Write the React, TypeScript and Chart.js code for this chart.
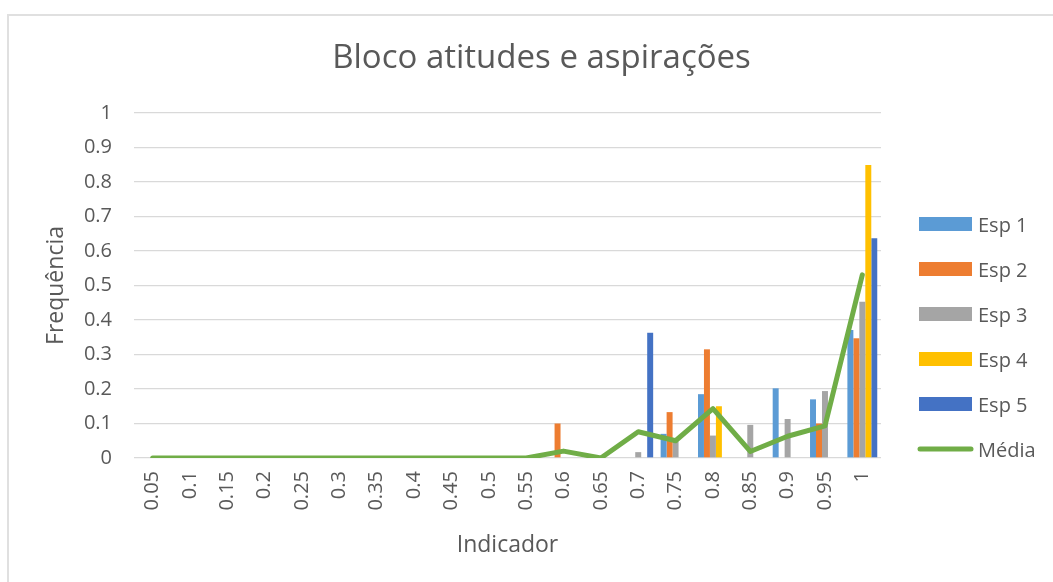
import React, { useEffect, useRef } from 'react';
import { Chart, registerables } from 'chart.js';

Chart.register(...registerables);

// ---------- data ----------
const categories = ['0.05', '0.1', '0.15', '0.2', '0.25', '0.3', '0.35', '0.4', '0.45', '0.5', '0.55', '0.6', '0.65', '0.7', '0.75', '0.8', '0.85', '0.9', '0.95', '1'];

const esp1 = [0, 0, 0, 0, 0, 0, 0, 0, 0, 0, 0, 0, 0, 0, 0.07, 0.185, 0, 0.202, 0.17, 0.371];
const esp2 = [0, 0, 0, 0, 0, 0, 0, 0, 0, 0, 0, 0.1, 0, 0, 0.133, 0.315, 0, 0, 0.1, 0.347];
const esp3 = [0, 0, 0, 0, 0, 0, 0, 0, 0, 0, 0, 0, 0, 0.017, 0.048, 0.065, 0.096, 0.113, 0.194, 0.453];
const esp4 = [0, 0, 0, 0, 0, 0, 0, 0, 0, 0, 0, 0, 0, 0, 0, 0.15, 0, 0, 0, 0.849];
const esp5 = [0, 0, 0, 0, 0, 0, 0, 0, 0, 0, 0, 0, 0, 0.363, 0, 0, 0, 0, 0, 0.637];
const media = [0, 0, 0, 0, 0, 0, 0, 0, 0, 0, 0, 0.02, 0, 0.076, 0.05, 0.143, 0.019, 0.063, 0.093, 0.531];

const seriesNames = ['Esp 1', 'Esp 2', 'Esp 3', 'Esp 4', 'Esp 5'];
const seriesValues = [esp1, esp2, esp3, esp4, esp5];
const seriesColors = ['#5B9BD5', '#ED7D31', '#A5A5A5', '#FFC000', '#4472C4'];
const mediaName = 'Média';
const mediaColor = '#70AD47';

const yTickLabels = ['0', '0.1', '0.2', '0.3', '0.4', '0.5', '0.6', '0.7', '0.8', '0.9', '1'];

const chartTitle = 'Bloco atitudes e aspirações';
const xAxisTitle = 'Indicador';
const yAxisTitle = 'Frequência';

const TEXT = '#595959';
const GRID = '#D9D9D9';
const FONT = "'Open Sans', 'DejaVu Sans', sans-serif";

// ---------- overlay plugin: title + legend ----------
const overlayPlugin = {
  id: 'overlayTitleLegend',
  afterDraw(chart: any) {
    const ctx = chart.ctx as CanvasRenderingContext2D;
    ctx.save();
    ctx.fillStyle = TEXT;
    ctx.font = `33px ${FONT}`;
    ctx.textAlign = 'center';
    ctx.textBaseline = 'alphabetic';
    ctx.fillText(chartTitle, 541.5, 68);

    const legendX = 919;
    const boxW = 53;
    const boxH = 14;
    const textX = 978;
    const firstY = 224;
    const stepY = 45;
    ctx.font = `20px ${FONT}`;
    ctx.textAlign = 'left';
    chart.data.datasets.forEach((ds: any, i: number) => {
      const cy = firstY + i * stepY;
      if (ds.type === 'line') {
        ctx.strokeStyle = ds.borderColor;
        ctx.lineWidth = 5;
        ctx.lineCap = 'round';
        ctx.beginPath();
        ctx.moveTo(legendX + 1, cy);
        ctx.lineTo(legendX + boxW - 1, cy);
        ctx.stroke();
      } else {
        ctx.fillStyle = ds.backgroundColor;
        ctx.fillRect(legendX, cy - boxH / 2, boxW, boxH);
      }
      ctx.fillStyle = TEXT;
      ctx.fillText(ds.label, textX, cy + 8);
    });
    ctx.restore();
  },
};

export default function App() {
  const canvasRef = useRef<HTMLCanvasElement | null>(null);

  useEffect(() => {
    if (!canvasRef.current) return;
    Chart.defaults.font.family = FONT;
    Chart.defaults.color = TEXT;

    const barDatasets = seriesNames.map((name, i) => ({
      type: 'bar' as const,
      label: name,
      data: seriesValues[i],
      backgroundColor: seriesColors[i],
      borderWidth: 0,
      categoryPercentage: 0.8,
      barPercentage: 1.0,
      order: 2,
    }));

    const chart = new Chart(canvasRef.current, {
      type: 'bar',
      data: {
        labels: categories,
        datasets: [
          ...barDatasets,
          {
            type: 'line' as const,
            label: mediaName,
            data: media,
            borderColor: mediaColor,
            backgroundColor: mediaColor,
            borderWidth: 5,
            pointRadius: 0,
            pointHoverRadius: 0,
            tension: 0,
            borderCapStyle: 'round',
            borderJoinStyle: 'round',
            fill: false,
            order: 0,
          } as any,
        ],
      },
      options: {
        animation: false,
        responsive: true,
        maintainAspectRatio: false,
        layout: { padding: { top: 113, right: 172, left: 0, bottom: 0 } },
        plugins: {
          legend: { display: false },
          title: { display: false },
          tooltip: { enabled: false },
        },
        scales: {
          x: {
            grid: { display: false, drawTicks: false },
            border: { display: false },
            ticks: {
              color: TEXT,
              font: { size: 20 },
              minRotation: 90,
              maxRotation: 90,
              padding: 13,
              autoSkip: false,
            },
            title: {
              display: true,
              text: xAxisTitle,
              color: TEXT,
              font: { size: 23 },
              padding: { top: 0, bottom: 23 },
            },
            afterFit: (scale: any) => {
              scale.height = 124;
            },
          },
          y: {
            min: 0,
            max: 1,
            grid: { color: GRID, lineWidth: 1.3, drawTicks: false },
            border: { display: false },
            ticks: {
              stepSize: 0.1,
              color: TEXT,
              font: { size: 20 },
              padding: 22,
              callback: (_v: any, idx: number) => yTickLabels[idx],
            },
            title: {
              display: true,
              text: yAxisTitle,
              color: TEXT,
              font: { size: 23 },
              padding: { top: 43, bottom: 0 },
            },
            afterFit: (scale: any) => {
              scale.width = 134;
            },
          },
        },
      },
      plugins: [overlayPlugin],
    });

    return () => {
      chart.destroy();
    };
  }, []);

  return (
    <div style={{ position: 'absolute', left: 0, top: 0, width: 1053, height: 582, overflow: 'hidden', background: '#ffffff' }}>
      <div
        style={{
          position: 'absolute',
          left: 7,
          top: 14,
          width: 1046,
          height: 568,
          borderTop: '2px solid #E0E0E0',
          borderLeft: '2px solid #E0E0E0',
          boxSizing: 'border-box',
        }}
      />
      <div style={{ position: 'absolute', left: 0, top: 0, width: 1053, height: 582 }}>
        <canvas ref={canvasRef} />
      </div>
    </div>
  );
}
